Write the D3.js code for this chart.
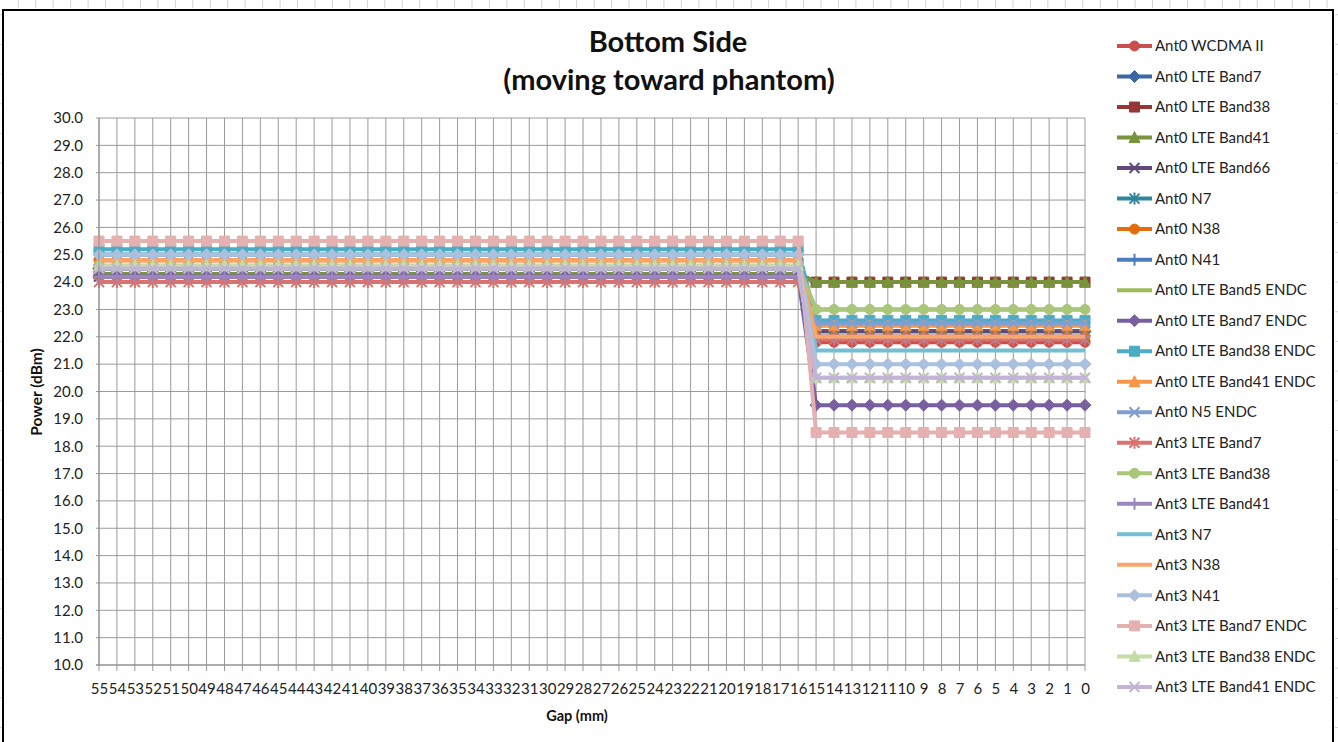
<!DOCTYPE html>
<html>
<head>
<meta charset="utf-8">
<script src="https://cdn.jsdelivr.net/npm/d3@7"></script>
<style>
  body { margin: 0; background: #fff; }
  svg { display: block; font-family: Lato, "Open Sans", sans-serif; }
</style>
</head>
<body>
<svg id="chart" width="1338" height="742"></svg>
<script>
// Gap positions (mm), left to right
const gaps = [55,54,53,52,51,50,49,48,47,46,45,44,43,42,41,40,39,38,37,36,35,34,33,32,31,30,
              29,28,27,26,25,24,23,22,21,20,19,18,17,16,15,14,13,12,11,10,9,8,7,6,5,4,3,2,1,0];

const seriesNames = [
  "Ant0 WCDMA II", "Ant0 LTE Band7", "Ant0 LTE Band38", "Ant0 LTE Band41", "Ant0 LTE Band66",
  "Ant0 N7", "Ant0 N38", "Ant0 N41", "Ant0 LTE Band5 ENDC", "Ant0 LTE Band7 ENDC",
  "Ant0 LTE Band38 ENDC", "Ant0 LTE Band41 ENDC", "Ant0 N5 ENDC", "Ant3 LTE Band7",
  "Ant3 LTE Band38", "Ant3 LTE Band41", "Ant3 N7", "Ant3 N38", "Ant3 N41",
  "Ant3 LTE Band7 ENDC", "Ant3 LTE Band38 ENDC", "Ant3 LTE Band41 ENDC"
];

const seriesColors = [
  "#c9504e", "#3b67a3", "#953735", "#77933c", "#604a7b",
  "#31859c", "#e46c0a", "#4a7ebf", "#9bbb59", "#7a5fa0",
  "#4bacc6", "#f79646", "#7f9fd1", "#d9736f",
  "#a9c67a", "#9b87bd", "#72bfd4", "#f9a56c", "#a9c0df",
  "#e4b1b0", "#c6dba6", "#c1b5d6"
];

const seriesMarkers = [
  "circle", "diamond", "square", "triangle", "x",
  "star", "circle", "plus", "none", "diamond",
  "square", "triangle", "x", "star",
  "circle", "plus", "none", "none", "diamond",
  "square", "triangle", "x"
];

// Measured power (dBm) while the gap is 55..16 mm
const farPower = [
  24.5, 24.5, 24.3, 24.3, 24.2,
  25.0, 24.8, 25.0, 24.5, 24.2,
  25.2, 24.8, 24.5, 24.0,
  24.6, 24.2, 25.0, 24.8, 25.0,
  25.5, 24.6, 24.5
];

// Measured power (dBm) once the gap is 15..0 mm
const nearPower = [
  21.8, 22.2, 24.0, 24.0, 22.2,
  22.0, 22.0, 22.5, 23.0, 19.5,
  22.6, 22.4, 22.5, 21.9,
  23.0, 22.0, 21.5, 22.0, 21.0,
  18.5, 20.5, 20.5
];

const yTicks = [10,11,12,13,14,15,16,17,18,19,20,21,22,23,24,25,26,27,28,29,30];

const svg = d3.select("#chart");

// ---- worksheet surroundings ----
const sheet = svg.append("g");
for (let x = 18.3; x < 1338; x += 17.45) {
  sheet.append("line").attr("x1", x).attr("x2", x).attr("y1", 0).attr("y2", 8)
    .attr("stroke", "#d4d4d4").attr("stroke-width", 1);
}
for (let y = 14.7; y < 742; y += 29.7) {
  sheet.append("line").attr("x1", 0).attr("x2", 2).attr("y1", y).attr("y2", y)
    .attr("stroke", "#d4d4d4");
  sheet.append("line").attr("x1", 1335).attr("x2", 1338).attr("y1", y).attr("y2", y)
    .attr("stroke", "#d4d4d4");
}
sheet.append("rect").attr("x", 3).attr("y", 10).attr("width", 1330).attr("height", 740)
  .attr("fill", "#fff").attr("stroke", "#000").attr("stroke-width", 2);

// ---- scales ----
const x = d3.scalePoint().domain(gaps).range([99, 1085]);
const y = d3.scaleLinear().domain([10, 30]).range([665, 118]);

// ---- gridlines ----
const grid = svg.append("g");
grid.selectAll(".hg").data(yTicks).join("line")
  .attr("x1", 96).attr("x2", 1085)
  .attr("y1", d => y(d)).attr("y2", d => y(d))
  .attr("stroke", "#9a9a9a").attr("stroke-width", 1);
grid.selectAll(".vg").data(gaps).join("line")
  .attr("x1", d => x(d)).attr("x2", d => x(d))
  .attr("y1", y(30)).attr("y2", y(10) + 6)
  .attr("stroke", "#9a9a9a").attr("stroke-width", 1);

// ---- axes ----
const yAxis = d3.axisLeft(y).tickValues(yTicks).tickFormat(d3.format(".1f")).tickSize(0).tickPadding(16);
const gy = svg.append("g").attr("transform", "translate(99,0)").call(yAxis);
gy.select(".domain").remove();
gy.selectAll("text").attr("font-size", 15).attr("fill", "#222").style("font-family", "Lato, sans-serif");

const xAxis = d3.axisBottom(x).tickSize(0).tickPadding(18);
const gx = svg.append("g").attr("transform", "translate(0,665)").call(xAxis);
gx.select(".domain").remove();
gx.selectAll("text").attr("font-size", 15).attr("fill", "#222").style("font-family", "Lato, sans-serif");

// ---- marker shapes ----
function markerPath(kind, r) {
  switch (kind) {
    case "circle":   return d3.symbol(d3.symbolCircle, Math.PI * r * r)();
    case "diamond":  return `M0,${-r - 1}L${r + 1},0L0,${r + 1}L${-r - 1},0Z`;
    case "square":   return `M${-r},${-r}H${r}V${r}H${-r}Z`;
    case "triangle": return `M0,${-r - 1}L${r + 0.5},${r}L${-r - 0.5},${r}Z`;
    case "x":        return `M${-r},${-r}L${r},${r}M${-r},${r}L${r},${-r}`;
    case "star":     return `M${-r},${-r}L${r},${r}M${-r},${r}L${r},${-r}M0,${-r - 1}V${r + 1}`;
    case "plus":     return `M${-r},0H${r}M0,${-r - 1}V${r + 1}`;
    default:         return null;
  }
}
const strokeOnly = k => k === "x" || k === "star" || k === "plus";

function drawMarker(g, kind, color, cx, cy) {
  const p = markerPath(kind, 5);
  if (!p) return;
  g.append("path").attr("d", p).attr("transform", `translate(${cx},${cy})`)
    .attr("fill", strokeOnly(kind) ? "none" : color)
    .attr("stroke", color).attr("stroke-width", strokeOnly(kind) ? 2 : 1);
}

// ---- series ----
const line = d3.line().x(d => x(d.gap)).y(d => y(d.power));
const plot = svg.append("g");
seriesNames.forEach((name, i) => {
  const pts = gaps.map(g => ({ gap: g, power: g >= 16 ? farPower[i] : nearPower[i] }));
  const g = plot.append("g");
  g.append("path").datum(pts).attr("d", line)
    .attr("fill", "none").attr("stroke", seriesColors[i]).attr("stroke-width", 4)
    .attr("stroke-linejoin", "round");
  pts.forEach(p => drawMarker(g, seriesMarkers[i], seriesColors[i], x(p.gap), y(p.power)));
});

// ---- axis frame lines ----
svg.append("line").attr("x1", 99).attr("x2", 99).attr("y1", y(30)).attr("y2", y(10))
  .attr("stroke", "#8c8c8c");
svg.append("line").attr("x1", 96).attr("x2", 1085).attr("y1", y(10)).attr("y2", y(10))
  .attr("stroke", "#8c8c8c");

// ---- titles ----
svg.append("text").attr("x", 668).attr("y", 52).attr("text-anchor", "middle")
  .attr("font-size", 29).attr("font-weight", "bold").attr("fill", "#111").text("Bottom Side");
svg.append("text").attr("x", 669).attr("y", 90).attr("text-anchor", "middle")
  .attr("font-size", 29).attr("font-weight", "bold").attr("fill", "#111").text("(moving toward phantom)");
svg.append("text").attr("transform", "translate(42,392) rotate(-90)").attr("text-anchor", "middle")
  .attr("font-size", 15.5).attr("font-weight", "bold").attr("fill", "#111").text("Power (dBm)");
svg.append("text").attr("x", 577).attr("y", 721).attr("text-anchor", "middle")
  .attr("font-size", 14.5).attr("font-weight", "bold").attr("fill", "#111").text("Gap (mm)");

// ---- legend ----
const legend = svg.append("g");
seriesNames.forEach((name, i) => {
  const ly = 46 + i * 30.52;
  const g = legend.append("g");
  g.append("line").attr("x1", 1117).attr("x2", 1152).attr("y1", ly).attr("y2", ly)
    .attr("stroke", seriesColors[i]).attr("stroke-width", 4);
  drawMarker(g, seriesMarkers[i], seriesColors[i], 1134.5, ly);
  g.append("text").attr("x", 1155).attr("y", ly).attr("dy", "0.35em")
    .attr("font-size", 15).attr("fill", "#222").text(name);
});
</script>
</body>
</html>
